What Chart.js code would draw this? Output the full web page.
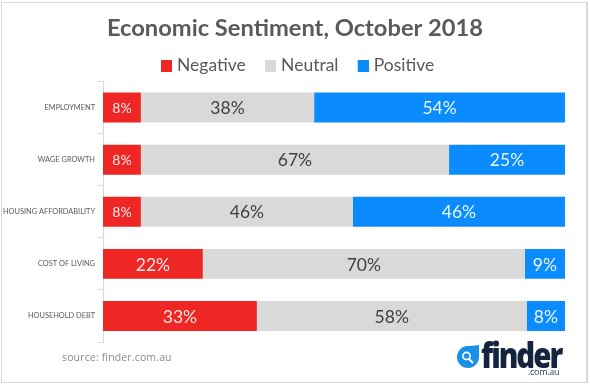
<!DOCTYPE html>
<html><head><meta charset="utf-8">
<style>
html,body{margin:0;padding:0;background:#fff;width:590px;height:384px;overflow:hidden}
#frame{position:absolute;left:1px;top:2px;width:584px;height:379px;border:1px solid #d9d9d9;border-right-width:2px;}
#wrap{position:absolute;left:0;top:0;width:590px;height:384px}
.t{position:absolute;white-space:nowrap}
#src{left:62px;top:350px;font:10.5px "Open Sans",sans-serif;color:#8c8c8c;letter-spacing:.15px}
#fin{left:481px;top:335px;font:800 35px/40px "Open Sans",sans-serif;color:#14243f;letter-spacing:-2.4px;transform:scaleX(.84);transform-origin:0 0}
#au{left:528px;top:367px;font:9px/10px "Open Sans",sans-serif;color:#33415a;letter-spacing:-.3px}
#drop{position:absolute;left:456px;top:344px}
</style></head><body>
<div id="frame"></div>
<div id="wrap"><canvas id="c" width="590" height="384"></canvas></div>
<div class="t" id="src">source: finder.com.au</div>
<svg id="drop" width="24" height="25" viewBox="0 0 24 25"><path d="M23 1 C23 1 23 12 23 13 A11 11 0 1 1 12 2 C16 2 23 1 23 1 Z" fill="#1b8fe8"/><circle cx="10.5" cy="12" r="3.6" fill="none" stroke="#fff" stroke-width="1.6"/><line x1="13" y1="15" x2="17" y2="19" stroke="#fff" stroke-width="2"/></svg>
<div class="t" id="fin">finder</div>
<div class="t" id="au">.com.au</div>
<script src="https://cdn.jsdelivr.net/npm/chart.js@4/dist/chart.umd.min.js"></script>
<script>
const categories = ["EMPLOYMENT","WAGE GROWTH","HOUSING AFFORDABILITY","COST OF LIVING","HOUSEHOLD DEBT"];
const negative = [8.2, 8.2, 8.2, 21.6, 33.3];
const neutral = [37.5, 66.7, 45.9, 69.7, 58.4];
const positive = [54.3, 25.1, 45.9, 8.7, 8.3];
const negativeLabels = ["8%","8%","8%","22%","33%"];
const neutralLabels = ["38%","67%","46%","70%","58%"];
const positiveLabels = ["54%","25%","46%","9%","8%"];
const seriesNames = ["Negative","Neutral","Positive"];
const titleText = "Economic Sentiment, October 2018";

function swatch(color){
  const cv=document.createElement('canvas');cv.width=27;cv.height=12;
  const g=cv.getContext('2d');g.fillStyle=color;g.fillRect(16,0,11,12);
  return cv;
}
const barLabels = {
  id:'barLabels',
  afterLayout(chart){
    chart.scales.y.left=0;
    chart.legend.right-=7;
    chart.legend.top+=3;
  },
  afterDatasetsDraw(chart){
    const ctx = chart.ctx;
    chart.data.datasets.forEach((ds,i)=>{
      chart.getDatasetMeta(i).data.forEach((bar,j)=>{
        const small = i===0 && ds.labelText[j].length===2;
        ctx.save();
        ctx.font = (small?14:17.5)+'px Lato, sans-serif';
        ctx.fillStyle = ds.labelColor;
        ctx.textAlign='center';ctx.textBaseline='middle';
        ctx.fillText(ds.labelText[j],(bar.base+bar.x)/2,bar.y+1);
        ctx.restore();
      });
    });
  }
};
new Chart(document.getElementById('c'),{
  type:'bar',
  data:{labels:categories,datasets:[
    {label:seriesNames[0],data:negative,backgroundColor:'#ee2624',labelText:negativeLabels,labelColor:'#fbe9e8'},
    {label:seriesNames[1],data:neutral,backgroundColor:'#d9d9d9',labelText:neutralLabels,labelColor:'#404040'},
    {label:seriesNames[2],data:positive,backgroundColor:'#0a8cff',labelText:positiveLabels,labelColor:'#eaf5ff'}
  ]},
  options:{
    indexAxis:'y',responsive:false,animation:false,
    categoryPercentage:0.575,barPercentage:1,
    layout:{padding:{left:25,right:25,top:0,bottom:42}},
    plugins:{
      title:{display:true,text:titleText,color:'#5a5a5a',font:{family:'Lato',size:23.7,weight:'bold'},padding:{top:14,bottom:4.6}},
      legend:{display:true,labels:{
        usePointStyle:true,pointStyle:'rect',pointStyleWidth:19.5,boxHeight:11,color:'#595959',font:{family:'Lato',size:17.5},padding:7,
        generateLabels(chart){
          return Chart.defaults.plugins.legend.labels.generateLabels(chart).map((it,i)=>{
            it.pointStyle=swatch(chart.data.datasets[i].backgroundColor);
            return it;
          });
        }
      }},
      tooltip:{enabled:false}
    },
    scales:{
      x:{stacked:true,min:0,max:100,display:false},
      y:{stacked:true,
        afterFit(s){s.width=78;},
        border:{color:'#d9d9d9'},
        grid:{drawOnChartArea:false,color:'#d9d9d9',tickLength:5,offset:true},
        ticks:{color:'#595959',font:{family:'Lato',size:7.4},padding:3}
      }
    }
  },
  plugins:[barLabels]
});
</script></body></html>
